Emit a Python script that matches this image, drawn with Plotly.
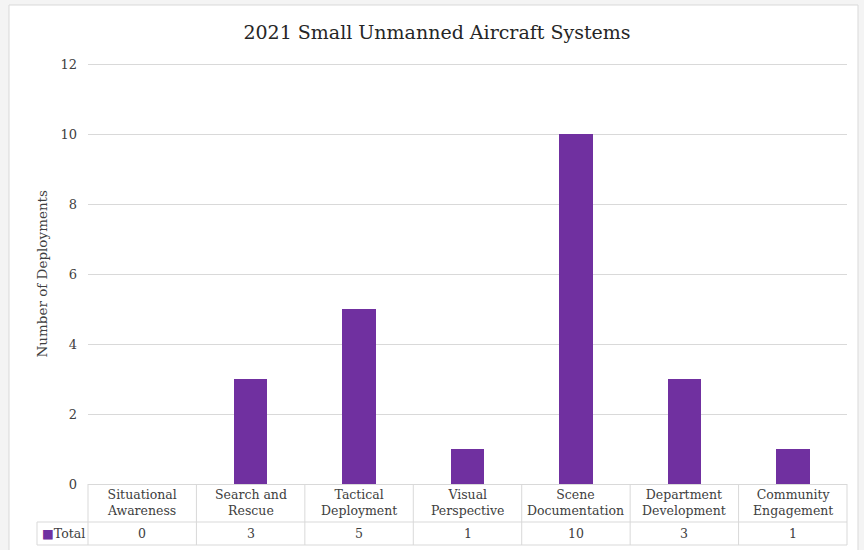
import plotly.graph_objects as go

# Deployment counts by mission type
categories = [
    "Situational Awareness",
    "Search and Rescue",
    "Tactical Deployment",
    "Visual Perspective",
    "Scene Documentation",
    "Department Development",
    "Community Engagement",
]
table_labels = [
    "Situational<br>Awareness",
    "Search and<br>Rescue",
    "Tactical<br>Deployment",
    "Visual<br>Perspective",
    "Scene<br>Documentation",
    "Department<br>Development",
    "Community<br>Engagement",
]
totals = [0, 3, 5, 1, 10, 3, 1]
y_ticks = [0, 2, 4, 6, 8, 10, 12]

PURPLE = "#7030A0"
GRID = "#d9d9d9"
TEXT = "#404040"
FONT = "DejaVu Serif"

W, H = 864, 550
L, R, T, B = 88, 847, 63, 484  # plot area in pixels


def px(x):
    return (x - L) / (R - L)


def py(y):
    return (B - y) / (B - T)


fig = go.Figure()
fig.add_bar(x=categories, y=totals, marker_color=PURPLE, marker_line_width=0,
            width=0.31, name="Total", showlegend=False)

shapes = []
# chart frame
shapes.append(dict(type="rect", xref="paper", yref="paper", layer="below",
                   x0=px(9), x1=px(858), y0=py(553), y1=py(5),
                   fillcolor="white", line=dict(color=GRID, width=1)))

# data table grid
row1 = py(522)
row2 = py(545)
line = dict(color=GRID, width=1)
shapes.append(dict(type="line", xref="paper", yref="paper", x0=px(37), x1=1,
                   y0=row1, y1=row1, line=line))
shapes.append(dict(type="line", xref="paper", yref="paper", x0=px(37), x1=1,
                   y0=row2, y1=row2, line=line))
shapes.append(dict(type="line", xref="paper", yref="paper", x0=px(37), x1=px(37),
                   y0=row2, y1=row1, line=line))
n = len(categories)
for i in range(n + 1):
    xb = i / n
    shapes.append(dict(type="line", xref="paper", yref="paper", x0=xb, x1=xb,
                       y0=row2, y1=0, line=line))

annotations = []
for i, (lab, v) in enumerate(zip(table_labels, totals)):
    xc = (i + 0.5) / n
    annotations.append(dict(xref="paper", yref="paper", x=xc, y=py(503),
                            text=lab, showarrow=False, xanchor="center",
                            yanchor="middle", font=dict(size=12.5, color=TEXT, family=FONT)))
    annotations.append(dict(xref="paper", yref="paper", x=xc, y=py(533.5),
                            text=str(v), showarrow=False, xanchor="center",
                            yanchor="middle", font=dict(size=12.5, color=TEXT, family=FONT)))
annotations.append(dict(xref="paper", yref="paper", x=px(40), y=py(533.5),
                        text=f"<span style='color:{PURPLE}'>■</span>Total",
                        showarrow=False, xanchor="left", yanchor="middle",
                        font=dict(size=12.5, color=TEXT, family=FONT)))
annotations.append(dict(xref="paper", yref="paper", x=px(41), y=0.5,
                        text="Number of Deployments", textangle=-90,
                        showarrow=False, xanchor="center", yanchor="middle",
                        font=dict(size=13.5, color=TEXT, family=FONT)))

fig.update_layout(
    width=W, height=H,
    margin=dict(l=L, r=W - R, t=T, b=H - B),
    paper_bgcolor="#f4f4f4",
    plot_bgcolor="white",
    title=dict(text="2021 Small Unmanned Aircraft Systems", x=437 / W, xref="container",
               y=1 - 32 / H, yref="container", xanchor="center", yanchor="middle",
               font=dict(size=19, color="#262626", family=FONT)),
    xaxis=dict(showticklabels=False, showgrid=False, zeroline=False, showline=False,
               range=[-0.5, n - 0.5]),
    yaxis=dict(range=[0, 12.03], tickvals=y_ticks, showgrid=True, gridcolor=GRID,
               gridwidth=1, zeroline=True, zerolinecolor=GRID, zerolinewidth=1,
               showline=False, ticks="", ticklabelstandoff=10,
               tickfont=dict(size=13, color=TEXT, family=FONT)),
    shapes=shapes,
    annotations=annotations,
    bargap=0,
)

fig.write_html("out.html")
